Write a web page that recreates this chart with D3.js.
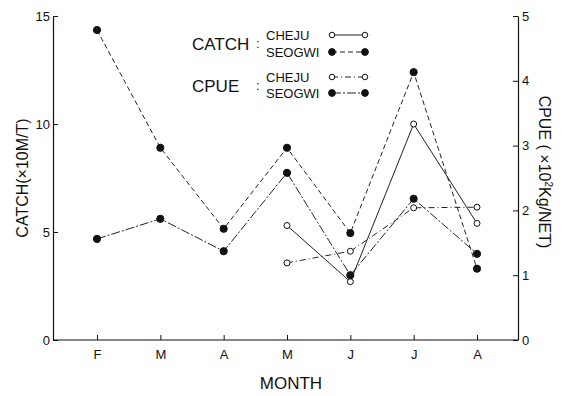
<!DOCTYPE html>
<html>
<head>
<meta charset="utf-8">
<script src="https://cdn.jsdelivr.net/npm/d3@7"></script>
<style>
  html, body { margin: 0; padding: 0; background: #fff; }
  svg text { font-family: "Liberation Sans", Arial, sans-serif; fill: #111; }
</style>
</head>
<body>
<svg id="chart" width="563" height="396"></svg>
<script>
// Months (Feb–Aug) and their axis letters
const months = ["Feb", "Mar", "Apr", "May", "Jun", "Jul", "Aug"];
const monthLabels = ["F", "M", "A", "M", "J", "J", "A"];

// Catch (×10 M/T), left axis
const catchCheju   = [null, null, null, 5.3, 2.7, 10.0, 5.4];
const catchSeogwi  = [14.35, 8.9, 5.15, 8.9, 4.95, 12.4, 3.3];

// CPUE (×10² kg/net), right axis
const cpueCheju    = [null, null, null, 1.19, 1.37, 2.04, 2.05];
const cpueSeogwi   = [1.56, 1.87, 1.37, 2.58, 1.0, 2.18, 1.33];

const catchTicks = [0, 5, 10, 15];
const cpueTicks  = [0, 1, 2, 3, 4, 5];

const svg = d3.select("#chart");
const plotL = 53, plotR = 518, plotT = 16, plotB = 340;

const x = d3.scalePoint().domain(months).range([97, 477]);
const yL = d3.scaleLinear().domain([0, 15]).range([plotB, plotT]);
const yR = d3.scaleLinear().domain([0, 5]).range([plotB, plotT]);

// Axes: ticks point inward
const gL = svg.append("g").attr("transform", `translate(${plotL},0)`)
  .call(d3.axisRight(yL).tickValues(catchTicks).tickSize(5).tickSizeOuter(0).tickFormat(d3.format("d")));
gL.selectAll(".tick text").attr("x", -3).attr("text-anchor", "end").attr("font-size", 13);

const gR = svg.append("g").attr("transform", `translate(${plotR},0)`)
  .call(d3.axisLeft(yR).tickValues(cpueTicks).tickSize(5).tickSizeOuter(0).tickFormat(d3.format("d")));
gR.selectAll(".tick text").attr("x", 4).attr("text-anchor", "start").attr("font-size", 13);

const gB = svg.append("g").attr("transform", `translate(0,${plotB})`)
  .call(d3.axisTop(x).tickSize(5).tickSizeOuter(0).tickFormat((d, i) => monthLabels[i]));
gB.select(".domain").remove();
gB.selectAll(".tick text").attr("y", 19).attr("dy", "0").attr("font-size", 13);
svg.append("line").attr("x1", plotL).attr("x2", plotR).attr("y1", plotB).attr("y2", plotB)
  .attr("stroke", "#111").attr("stroke-width", 1.2);

svg.selectAll(".domain").attr("stroke", "#111").attr("stroke-width", 1.2);
svg.selectAll(".tick line").attr("stroke", "#111");

// Axis titles
svg.append("text").attr("transform", "translate(28,178) rotate(-90)")
  .attr("text-anchor", "middle").attr("font-size", 16).text("CATCH(×10M/T)");
svg.append("text").attr("transform", "translate(539,172) rotate(90)")
  .attr("text-anchor", "middle").attr("font-size", 16)
  .html('CPUE ( ×10<tspan dy="-6" font-size="10">2</tspan><tspan dy="6">Kg/NET)</tspan>');
svg.append("text").attr("x", 291).attr("y", 389)
  .attr("text-anchor", "middle").attr("font-size", 17).text("MONTH");

// Series
const series = [
  { vals: catchCheju,  y: yL, filled: false, dash: null },
  { vals: catchSeogwi, y: yL, filled: true,  dash: "5,3" },
  { vals: cpueCheju,   y: yR, filled: false, dash: "6,3,1,3" },
  { vals: cpueSeogwi,  y: yR, filled: true,  dash: "9,2,2,2" }
];

series.forEach(s => {
  const pts = months.map((m, i) => ({ m, v: s.vals[i] })).filter(d => d.v != null);
  const line = d3.line().x(d => x(d.m)).y(d => s.y(d.v));
  svg.append("path").datum(pts).attr("d", line)
    .attr("fill", "none").attr("stroke", "#222").attr("stroke-width", 1)
    .attr("stroke-dasharray", s.dash);
  svg.selectAll(null).data(pts).enter().append("circle")
    .attr("cx", d => x(d.m)).attr("cy", d => s.y(d.v))
    .attr("r", s.filled ? 3.6 : 3)
    .attr("fill", s.filled ? "#111" : "#fff")
    .attr("stroke", "#111").attr("stroke-width", 1);
});

// Legend
const legend = [
  { name: "CHEJU",  y: 35, filled: false, dash: null },
  { name: "SEOGWI", y: 52, filled: true,  dash: "5,3" },
  { name: "CHEJU",  y: 77, filled: false, dash: "6,3,1,3" },
  { name: "SEOGWI", y: 93, filled: true,  dash: "9,2,2,2" }
];
svg.append("text").attr("x", 192).attr("y", 50).attr("font-size", 17).text("CATCH");
svg.append("text").attr("x", 256).attr("y", 48).attr("font-size", 13).text(":");
svg.append("text").attr("x", 192).attr("y", 92).attr("font-size", 17).text("CPUE");
svg.append("text").attr("x", 256).attr("y", 90).attr("font-size", 13).text(":");
legend.forEach(l => {
  svg.append("text").attr("x", 266).attr("y", l.y + 5).attr("font-size", 13).text(l.name);
  svg.append("line").attr("x1", 332).attr("x2", 365).attr("y1", l.y).attr("y2", l.y)
    .attr("stroke", "#222").attr("stroke-width", 1).attr("stroke-dasharray", l.dash);
  [332, 365].forEach(cx => {
    svg.append("circle").attr("cx", cx).attr("cy", l.y)
      .attr("r", l.filled ? 3.4 : 2.8)
      .attr("fill", l.filled ? "#111" : "#fff")
      .attr("stroke", "#111").attr("stroke-width", 1);
  });
});
</script>
</body>
</html>
